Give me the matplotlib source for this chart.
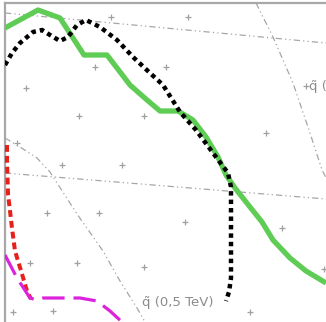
import matplotlib
matplotlib.use("Agg")
import matplotlib.pyplot as plt

# Exclusion contours (plane coordinates, y grows downward)
green_x = [5, 38, 60, 84, 107, 117, 130, 147, 160, 178, 193, 206, 218, 226, 235, 250, 262, 273, 290, 306, 326]
green_y = [28, 10, 18, 55, 55, 68, 85, 100, 111, 111, 120, 137, 157, 175, 188, 207, 222, 240, 258, 271, 283]

black_x = [5, 12, 20, 33, 42, 50, 60, 68, 77, 86, 100, 117, 133, 150, 163, 180, 196, 213, 228, 231, 231, 229, 226]
black_y = [65, 53, 43, 32, 30, 35, 41, 37, 25, 20, 27, 40, 57, 73, 85, 112, 130, 153, 173, 187, 278, 292, 301]

red_x = [7, 7, 8, 12, 15, 22, 27, 31]
red_y = [145, 161, 194, 228, 251, 274, 291, 299]

magenta_x = [5, 17, 30, 37, 43, 80, 97, 110, 122]
magenta_y = [255, 278, 298, 300, 298, 298, 301, 311, 322]

# Iso-mass guide lines
iso1_x = [5, 326]
iso1_y = [13, 43]
iso2_x = [5, 326]
iso2_y = [173, 199]
iso3_x = [256, 258, 273, 293, 310, 322, 330]
iso3_y = [3, 7, 37, 83, 133, 170, 185]
iso4_x = [5, 20, 37, 50, 77, 103, 120, 137, 145]
iso4_y = [138, 147, 158, 172, 214, 251, 281, 308, 322]

# Signal grid points
grid_x = [111, 188, 95, 166, 26, 79, 144, 17, 266, 306, 62, 122, 47, 99, 185, 282,
          30, 77, 144, 324, 13, 53, 250]
grid_y = [17, 17, 67, 67, 88, 116, 116, 143, 133, 86, 165, 165, 213, 213, 222, 228,
          263, 263, 267, 269, 312, 311, 312]

fig = plt.figure(figsize=(3.26, 3.22), dpi=100)
ax = fig.add_axes([5 / 326, 1 - 3 / 322 - 1.5, 1.5, 1.5])
ax.set_xlim(5, 5 + 1.5 * 326)
ax.set_ylim(3 + 1.5 * 322, 3)
ax.set_xticks([])
ax.set_yticks([])
for side in ["right", "bottom"]:
    ax.spines[side].set_visible(False)
for side in ["top", "left"]:
    ax.spines[side].set_color("#a8a8a8")
    ax.spines[side].set_linewidth(1.6)

gray = "#a6a6a6"
dashdot = (0, (5, 2.5, 1, 2.5, 1, 2.5))
for xs, ys in [(iso1_x, iso1_y), (iso2_x, iso2_y), (iso3_x, iso3_y), (iso4_x, iso4_y)]:
    ax.plot(xs, ys, color=gray, lw=0.9, linestyle=dashdot, zorder=1)

ax.plot(grid_x, grid_y, linestyle="none", marker="+", ms=5, mew=0.9, color="#a0a0a0", zorder=1)

ax.plot(green_x, green_y, color="#5fcc55", lw=3.8, solid_capstyle="butt", zorder=3)
ax.plot(black_x, black_y, color="black", lw=3.2, linestyle=(0, (1, 0.9)),
        dash_capstyle="butt", zorder=4)
ax.plot(red_x, red_y, color="#e8201c", lw=2.9, linestyle=(0, (1.7, 1.0)),
        dash_capstyle="butt", zorder=3)
ax.plot(magenta_x, magenta_y, color="#dd22dd", lw=2.3, linestyle=(0, (7, 2.8)),
        solid_capstyle="round", zorder=3)

ax.text(142, 303, "q\u0303 (0,5 TeV)", fontsize=9.5, color="#8c8c8c",
        ha="left", va="center", zorder=2)
ax.text(309, 87, "q\u0303 (1 TeV)", fontsize=9.5, color="#8c8c8c",
        ha="left", va="center", zorder=2)

fig.savefig("out.png", dpi=100)
